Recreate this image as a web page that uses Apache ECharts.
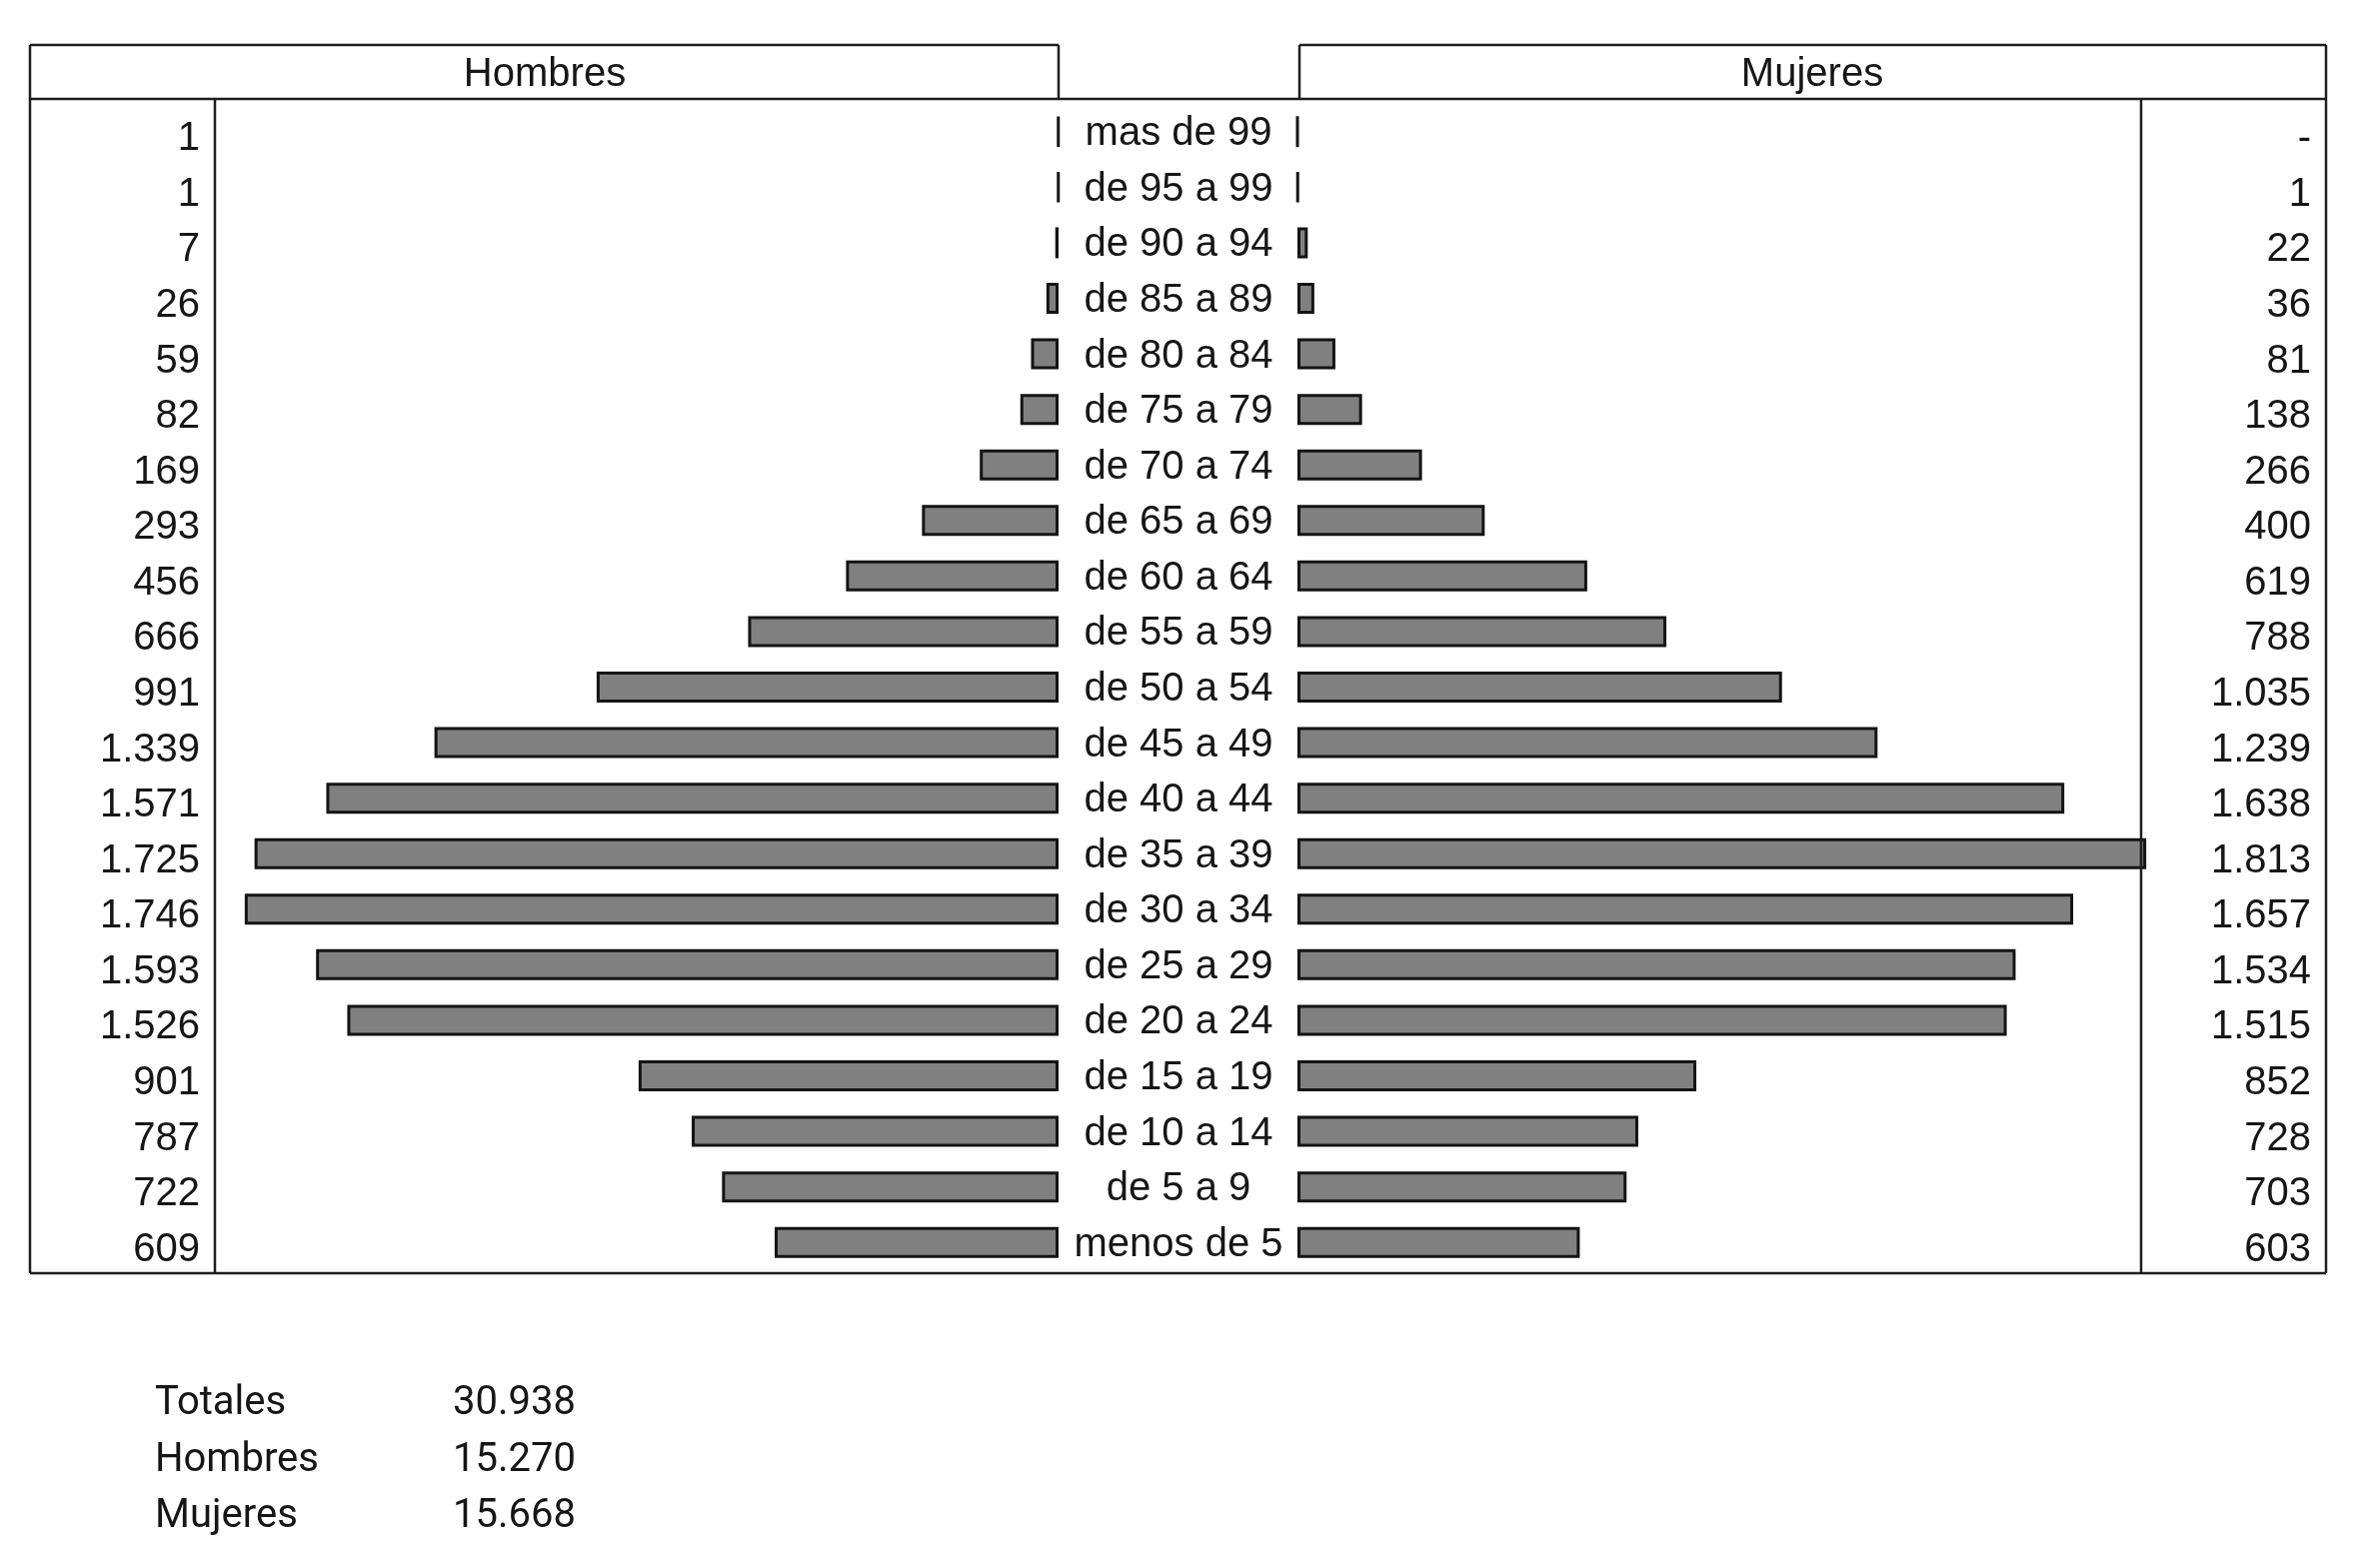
<!DOCTYPE html>
<html>
<head>
<meta charset="utf-8">
<script src="https://cdn.jsdelivr.net/npm/echarts@6/dist/echarts.min.js"></script>
<style>
  html, body { margin: 0; padding: 0; background: #fff; }
  #chart { width: 2359px; height: 1569px; }
</style>
</head>
<body>
<div id="chart"></div>
<script>
  // grupos de edad, de arriba abajo
  var ages = ['mas de 99', 'de 95 a 99', 'de 90 a 94', 'de 85 a 89', 'de 80 a 84', 'de 75 a 79',
    'de 70 a 74', 'de 65 a 69', 'de 60 a 64', 'de 55 a 59', 'de 50 a 54', 'de 45 a 49',
    'de 40 a 44', 'de 35 a 39', 'de 30 a 34', 'de 25 a 29', 'de 20 a 24', 'de 15 a 19',
    'de 10 a 14', 'de 5 a 9', 'menos de 5'];
  var hombres = [1, 1, 7, 26, 59, 82, 169, 293, 456, 666, 991, 1339, 1571, 1725, 1746, 1593, 1526, 901, 787, 722, 609];
  var mujeres = [0, 1, 22, 36, 81, 138, 266, 400, 619, 788, 1035, 1239, 1638, 1813, 1657, 1534, 1515, 852, 728, 703, 603];
  var totalLabels = ['Totales', 'Hombres', 'Mujeres'];
  var totalValues = [30938, 15270, 15668];

  function fmt(n) {
    if (n === 0) return '-';
    return String(n).replace(/\B(?=(\d{3})+(?!\d))/g, '.');
  }

  var FONT = '"Liberation Sans", Arial, sans-serif';
  var TXT = '#161616';
  var LINE = '#1e1e1e';

  var myChart = echarts.init(document.getElementById('chart'));

  // marco de la tabla
  var frame = [
    [30, 45, 1059, 45], [1300, 45, 2327, 45],
    [30, 99, 2327, 99], [30, 1274, 2327, 1274],
    [30, 45, 30, 1274], [2327, 45, 2327, 1274],
    [1059, 45, 1059, 99], [1300, 45, 1300, 99],
    [215, 99, 215, 1274], [2142, 99, 2142, 1274]
  ];
  var graphics = frame.map(function (l) {
    return { type: 'line', shape: { x1: l[0], y1: l[1], x2: l[2], y2: l[3] }, style: { stroke: LINE, lineWidth: 2.5 }, z: 10 };
  });
  graphics.push({ type: 'text', x: 545, y: 75, style: { text: 'Hombres', font: '40px ' + FONT, fill: TXT, textAlign: 'center', textVerticalAlign: 'middle' } });
  graphics.push({ type: 'text', x: 1813, y: 75, style: { text: 'Mujeres', font: '40px ' + FONT, fill: TXT, textAlign: 'center', textVerticalAlign: 'middle' } });
  totalLabels.forEach(function (t, i) {
    var y = 1405 + i * 56.5;
    graphics.push({ type: 'text', x: 155, y: y, style: { text: t, font: '40px Roboto', fill: TXT, textAlign: 'left', textVerticalAlign: 'middle' } });
    graphics.push({ type: 'text', x: 576, y: y, style: { text: fmt(totalValues[i]), font: '40px Roboto', fill: TXT, textAlign: 'right', textVerticalAlign: 'middle' } });
  });

  var barStyle = { color: '#808080', borderColor: '#141414', borderWidth: 3 };
  var lbl = { fontFamily: FONT, fontSize: 40, color: TXT, interval: 0 };
  // los números quedan algo más bajos que las barras
  var numRich = { n: { fontFamily: FONT, fontSize: 40, color: TXT, padding: [15, 0, 0, 0] } };
  var ageRich = { a: { fontFamily: FONT, fontSize: 40, color: TXT, padding: [5, 0, 0, 0] } };

  var option = {
    animation: false,
    backgroundColor: '#fff',
    grid: [
      { left: 215, width: 844, top: 104, height: 1167 },
      { left: 1298, width: 844, top: 104, height: 1167 }
    ],
    xAxis: [
      { gridIndex: 0, type: 'value', inverse: true, min: 0, max: 1810, show: false },
      { gridIndex: 1, type: 'value', min: 0, max: 1802, show: false }
    ],
    yAxis: [
      {
        gridIndex: 0, type: 'category', data: ages, inverse: true, position: 'left',
        axisLine: { show: false }, axisTick: { show: false },
        axisLabel: Object.assign({}, lbl, {
          align: 'right', margin: 15, rich: numRich,
          formatter: function (v, i) { return '{n|' + fmt(hombres[i]) + '}'; }
        })
      },
      {
        gridIndex: 1, type: 'category', data: ages, inverse: true, position: 'left',
        axisLine: { show: false }, axisTick: { show: false },
        axisLabel: Object.assign({}, lbl, {
          align: 'center', margin: 119, rich: ageRich,
          formatter: function (v) { return '{a|' + v + '}'; }
        })
      },
      {
        gridIndex: 1, type: 'category', data: ages, inverse: true, position: 'right',
        axisLine: { show: false }, axisTick: { show: false },
        axisLabel: Object.assign({}, lbl, {
          align: 'right', margin: 170, rich: numRich,
          formatter: function (v, i) { return '{n|' + fmt(mujeres[i]) + '}'; }
        })
      }
    ],
    series: [
      { name: 'Hombres', type: 'bar', xAxisIndex: 0, yAxisIndex: 0, data: hombres, barWidth: 31, clip: false, itemStyle: barStyle },
      { name: 'Mujeres', type: 'bar', xAxisIndex: 1, yAxisIndex: 1, data: mujeres, barWidth: 31, clip: false, itemStyle: barStyle }
    ],
    graphic: graphics
  };

  myChart.setOption(option);
</script>
</body>
</html>
